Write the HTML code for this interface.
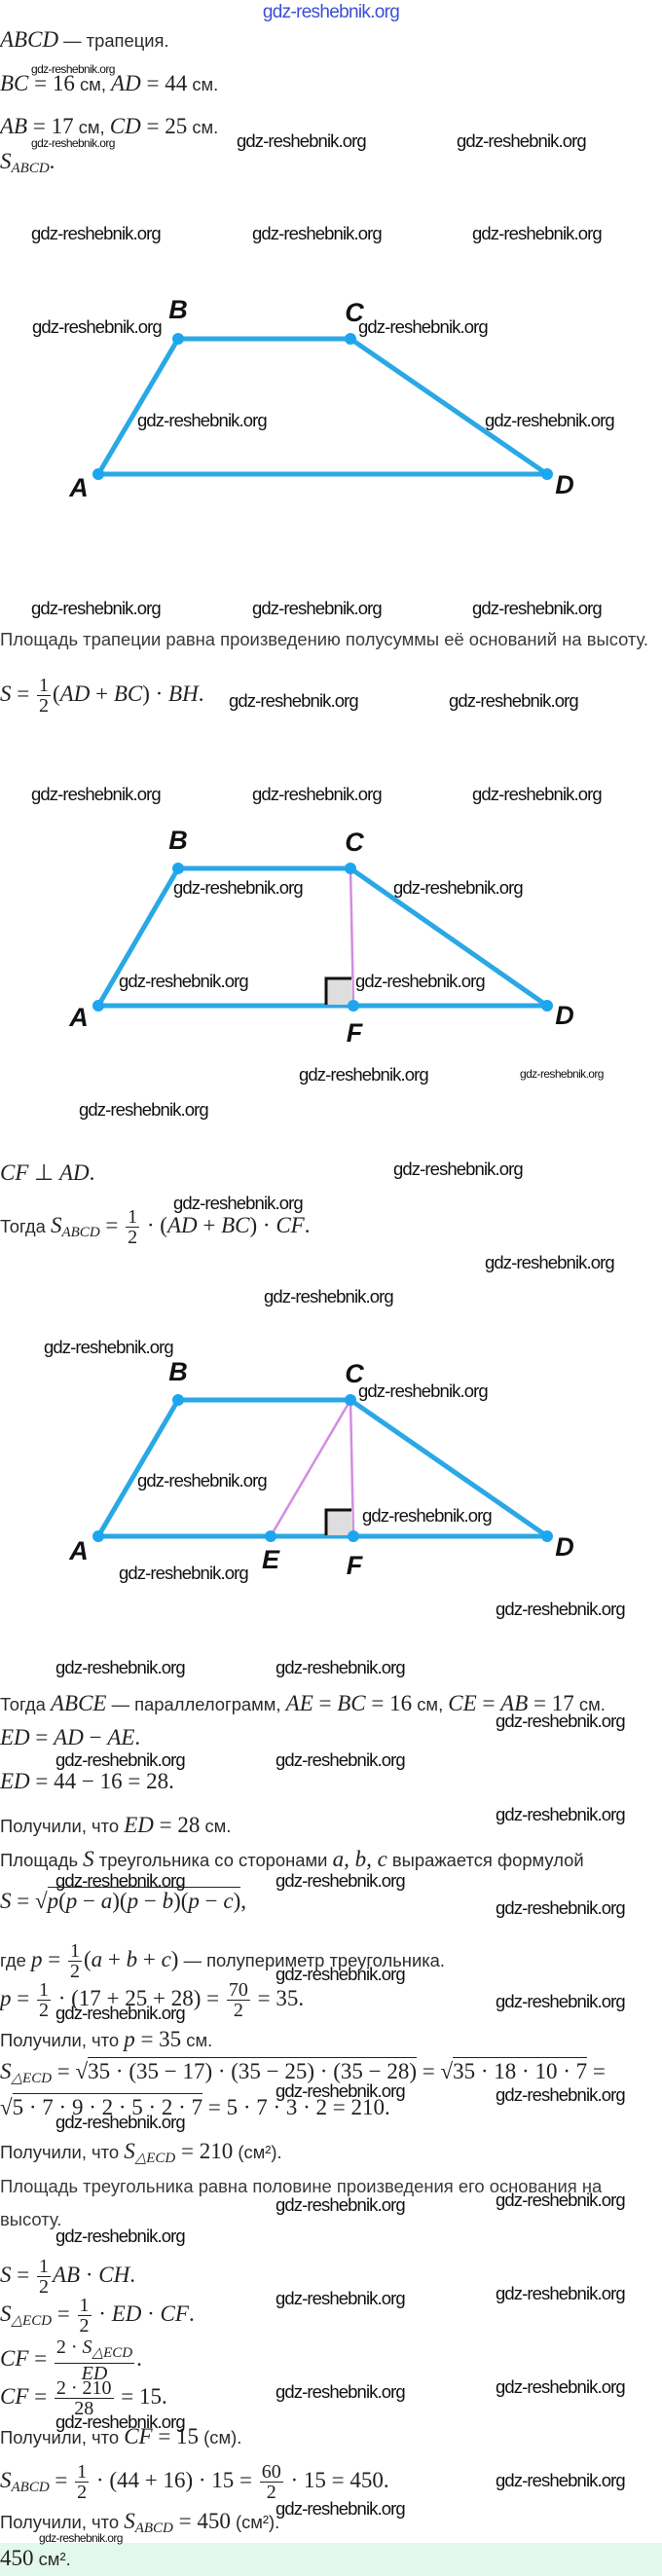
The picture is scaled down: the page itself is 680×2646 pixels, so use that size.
<!DOCTYPE html>
<html><head><meta charset="utf-8">
<style>
html,body{margin:0;padding:0;background:#fff}
body{position:relative;width:680px;height:2646px;overflow:hidden;font-family:"Liberation Sans",sans-serif}
.t{position:absolute;left:0;font-size:18.4px;line-height:24px;color:#2b2b2b;white-space:nowrap}
.m{font-family:"Liberation Serif",serif;font-size:23px;color:#222}
.i{font-style:italic}
.sub{font-size:15px;font-style:italic;vertical-align:-4px}
.fr{display:inline-block;vertical-align:middle;text-align:center;font-family:"Liberation Serif",serif;font-size:20px;line-height:20px;margin:0 2px}
.fr>span{display:block;padding:0 2px}
.fr>span:first-child{border-bottom:1px solid #222}
.sq{border-top:1px solid #222;padding-top:1px}
.w{position:absolute;font-family:"Liberation Sans",sans-serif;font-size:18.5px;line-height:20px;color:#111;letter-spacing:-0.9px;white-space:nowrap}
.ws{position:absolute;font-family:"Liberation Sans",sans-serif;font-size:12px;line-height:14px;color:#111;letter-spacing:-0.6px;white-space:nowrap}
svg{position:absolute;left:0;top:0}
</style></head><body>

<div style="position:absolute;left:0;width:680px;top:2px;text-align:center;font-size:19px;color:#3a4fd6;letter-spacing:-0.7px">gdz-reshebnik.org</div>

<svg width="680" height="2646" viewBox="0 0 680 2646">
<g stroke="#2aa8e6" stroke-width="5" fill="none" stroke-linejoin="round">
<polygon points="101,487 183,348 360,348 562,487"/>
<polygon points="101,1033 183,892 360,892 562,1033"/>
<polygon points="101,1578 183,1438 360,1438 562,1578"/>
</g>
<g stroke="#d48be3" stroke-width="2.5">
<line x1="360" y1="892" x2="363" y2="1033"/>
<line x1="360" y1="1438" x2="363" y2="1578"/>
<line x1="360" y1="1438" x2="278" y2="1578"/>
</g>
<rect x="334" y="1005" width="28" height="27" fill="#dedede"/>
<path d="M335,1032 V1005 H361" stroke="#111" stroke-width="3" fill="none"/>
<rect x="334" y="1551" width="28" height="26" fill="#dedede"/>
<path d="M335,1577 V1551 H361" stroke="#111" stroke-width="3" fill="none"/>
<g fill="#1da6ef">
<circle cx="101" cy="487" r="6"/><circle cx="183" cy="348" r="6"/><circle cx="360" cy="348" r="6"/><circle cx="562" cy="487" r="6"/>
<circle cx="101" cy="1033" r="6"/><circle cx="183" cy="892" r="6"/><circle cx="360" cy="892" r="6"/><circle cx="562" cy="1033" r="6"/><circle cx="363" cy="1033" r="6"/>
<circle cx="101" cy="1578" r="6"/><circle cx="183" cy="1438" r="6"/><circle cx="360" cy="1438" r="6"/><circle cx="562" cy="1578" r="6"/><circle cx="363" cy="1578" r="6"/><circle cx="278" cy="1578" r="6"/>
</g>
<g font-family="Liberation Sans, sans-serif" font-weight="bold" font-style="italic" font-size="27" fill="#111" text-anchor="middle">
<text x="183" y="327" transform="">B</text><text x="364" y="330">C</text><text x="81" y="510">A</text><text x="580" y="507">D</text>
<text x="183" y="872">B</text><text x="364" y="874">C</text><text x="81" y="1054">A</text><text x="580" y="1052">D</text><text x="364" y="1070">F</text>
<text x="183" y="1418">B</text><text x="364" y="1420">C</text><text x="81" y="1602">A</text><text x="580" y="1598">D</text><text x="364" y="1617">F</text><text x="278" y="1611">E</text>
</g>
</svg>

<div class="t" style="top:29px"><span class="m i">ABCD</span> — трапеция.</div>
<div class="t" style="top:74px"><span class="m"><i>BC</i> = 16</span> см, <span class="m"><i>AD</i> = 44</span> см.</div>
<div class="t" style="top:118px"><span class="m"><i>AB</i> = 17</span> см, <span class="m"><i>CD</i> = 25</span> см.</div>
<div class="t" style="top:154px"><span class="m"><i>S</i><span class="sub">ABCD</span>.</span></div>

<div class="t" style="top:645px;color:#3a3a3a">Площадь трапеции равна произведению полусуммы её оснований на высоту.</div>
<div class="t" style="top:694px"><span class="m"><i>S</i> = <span class="fr"><span>1</span><span>2</span></span>(<i>AD</i> + <i>BC</i>) · <i>BH</i>.</span></div>

<div class="t" style="top:1193px"><span class="m"><i>CF</i> ⊥ <i>AD</i>.</span></div>
<div class="t" style="top:1240px">Тогда <span class="m"><i>S</i><span class="sub">ABCD</span> = <span class="fr"><span>1</span><span>2</span></span> · (<i>AD</i> + <i>BC</i>) · <i>CF</i>.</span></div>

<div class="t" style="top:1738px">Тогда <span class="m i">ABCE</span> — параллелограмм, <span class="m"><i>AE</i> = <i>BC</i> = 16</span> см, <span class="m"><i>CE</i> = <i>AB</i> = 17</span> см.</div>
<div class="t" style="top:1773px"><span class="m"><i>ED</i> = <i>AD</i> − <i>AE</i>.</span></div>
<div class="t" style="top:1818px"><span class="m"><i>ED</i> = 44 − 16 = 28.</span></div>
<div class="t" style="top:1863px">Получили, что <span class="m"><i>ED</i> = 28</span> см.</div>
<div class="t" style="top:1898px">Площадь <span class="m i">S</span> треугольника со сторонами <span class="m i">a, b, c</span> выражается формулой</div>
<div class="t" style="top:1941px"><span class="m"><i>S</i> = √<span class="sq"><i>p</i>(<i>p</i> − <i>a</i>)(<i>p</i> − <i>b</i>)(<i>p</i> − <i>c</i>)</span>,</span></div>
<div class="t" style="top:1994px">где <span class="m"><i>p</i> = <span class="fr"><span>1</span><span>2</span></span>(<i>a</i> + <i>b</i> + <i>c</i>)</span> — полупериметр треугольника.</div>
<div class="t" style="top:2034px"><span class="m"><i>p</i> = <span class="fr"><span>1</span><span>2</span></span> · (17 + 25 + 28) = <span class="fr"><span>70</span><span>2</span></span> = 35.</span></div>
<div class="t" style="top:2083px">Получили, что <span class="m"><i>p</i> = 35</span> см.</div>
<div class="t" style="top:2116px"><span class="m"><i>S</i><span class="sub">△ECD</span> = √<span class="sq">35 · (35 − 17) · (35 − 25) · (35 − 28)</span> = √<span class="sq">35 · 18 · 10 · 7</span> =</span></div>
<div class="t" style="top:2153px"><span class="m">√<span class="sq">5 · 7 · 9 · 2 · 5 · 2 · 7</span> = 5 · 7 · 3 · 2 = 210.</span></div>
<div class="t" style="top:2198px">Получили, что <span class="m"><i>S</i><span class="sub">△ECD</span> = 210</span> (см²).</div>
<div class="t" style="top:2234px;color:#3a3a3a">Площадь треугольника равна половине произведения его основания на</div>
<div class="t" style="top:2268px;color:#3a3a3a">высоту.</div>
<div class="t" style="top:2318px"><span class="m"><i>S</i> = <span class="fr"><span>1</span><span>2</span></span><i>AB</i> · <i>CH</i>.</span></div>
<div class="t" style="top:2358px"><span class="m"><i>S</i><span class="sub">△ECD</span> = <span class="fr"><span>1</span><span>2</span></span> · <i>ED</i> · <i>CF</i>.</span></div>
<div class="t" style="top:2401px"><span class="m"><i>CF</i> = <span class="fr"><span>2 · <i>S</i><span class="sub">△ECD</span></span><span><i>ED</i></span></span>.</span></div>
<div class="t" style="top:2443px"><span class="m"><i>CF</i> = <span class="fr"><span>2 · 210</span><span>28</span></span> = 15.</span></div>
<div class="t" style="top:2491px">Получили, что <span class="m"><i>CF</i> = 15</span> (см).</div>
<div class="t" style="top:2529px"><span class="m"><i>S</i><span class="sub">ABCD</span> = <span class="fr"><span>1</span><span>2</span></span> · (44 + 16) · 15 = <span class="fr"><span>60</span><span>2</span></span> · 15 = 450.</span></div>
<div class="t" style="top:2578px">Получили, что <span class="m"><i>S</i><span class="sub">ABCD</span> = 450</span> (см²).</div>
<div style="position:absolute;left:0;top:2612px;width:680px;height:34px;background:#e2f8ec"></div>
<div class="t" style="top:2616px"><span class="m">450</span> см².</div>

<div class="ws" style="left:32px;top:64px">gdz-reshebnik.org</div>
<div class="ws" style="left:32px;top:140px">gdz-reshebnik.org</div>
<div class="w" style="left:243px;top:135px">gdz-reshebnik.org</div>
<div class="w" style="left:469px;top:135px">gdz-reshebnik.org</div>
<div class="w" style="left:32px;top:230px">gdz-reshebnik.org</div>
<div class="w" style="left:259px;top:230px">gdz-reshebnik.org</div>
<div class="w" style="left:485px;top:230px">gdz-reshebnik.org</div>
<div class="w" style="left:33px;top:326px">gdz-reshebnik.org</div>
<div class="w" style="left:368px;top:326px">gdz-reshebnik.org</div>
<div class="w" style="left:141px;top:422px">gdz-reshebnik.org</div>
<div class="w" style="left:498px;top:422px">gdz-reshebnik.org</div>
<div class="w" style="left:32px;top:615px">gdz-reshebnik.org</div>
<div class="w" style="left:259px;top:615px">gdz-reshebnik.org</div>
<div class="w" style="left:485px;top:615px">gdz-reshebnik.org</div>
<div class="w" style="left:235px;top:710px">gdz-reshebnik.org</div>
<div class="w" style="left:461px;top:710px">gdz-reshebnik.org</div>
<div class="w" style="left:32px;top:806px">gdz-reshebnik.org</div>
<div class="w" style="left:259px;top:806px">gdz-reshebnik.org</div>
<div class="w" style="left:485px;top:806px">gdz-reshebnik.org</div>
<div class="w" style="left:178px;top:902px">gdz-reshebnik.org</div>
<div class="w" style="left:404px;top:902px">gdz-reshebnik.org</div>
<div class="w" style="left:122px;top:998px">gdz-reshebnik.org</div>
<div class="w" style="left:365px;top:998px">gdz-reshebnik.org</div>
<div class="w" style="left:307px;top:1094px">gdz-reshebnik.org</div>
<div class="ws" style="left:534px;top:1096px">gdz-reshebnik.org</div>
<div class="w" style="left:81px;top:1130px">gdz-reshebnik.org</div>
<div class="w" style="left:404px;top:1191px">gdz-reshebnik.org</div>
<div class="w" style="left:178px;top:1226px">gdz-reshebnik.org</div>
<div class="w" style="left:498px;top:1287px">gdz-reshebnik.org</div>
<div class="w" style="left:271px;top:1322px">gdz-reshebnik.org</div>
<div class="w" style="left:45px;top:1374px">gdz-reshebnik.org</div>
<div class="w" style="left:368px;top:1419px">gdz-reshebnik.org</div>
<div class="w" style="left:141px;top:1511px">gdz-reshebnik.org</div>
<div class="w" style="left:372px;top:1547px">gdz-reshebnik.org</div>
<div class="w" style="left:122px;top:1606px">gdz-reshebnik.org</div>
<div class="w" style="left:509px;top:1643px">gdz-reshebnik.org</div>
<div class="w" style="left:57px;top:1703px">gdz-reshebnik.org</div>
<div class="w" style="left:283px;top:1703px">gdz-reshebnik.org</div>
<div class="w" style="left:509px;top:1758px">gdz-reshebnik.org</div>
<div class="w" style="left:57px;top:1798px">gdz-reshebnik.org</div>
<div class="w" style="left:283px;top:1798px">gdz-reshebnik.org</div>
<div class="w" style="left:509px;top:1854px">gdz-reshebnik.org</div>
<div class="w" style="left:57px;top:1922px">gdz-reshebnik.org</div>
<div class="w" style="left:283px;top:1922px">gdz-reshebnik.org</div>
<div class="w" style="left:509px;top:1950px">gdz-reshebnik.org</div>
<div class="w" style="left:283px;top:2018px">gdz-reshebnik.org</div>
<div class="w" style="left:509px;top:2046px">gdz-reshebnik.org</div>
<div class="w" style="left:57px;top:2058px">gdz-reshebnik.org</div>
<div class="w" style="left:283px;top:2138px">gdz-reshebnik.org</div>
<div class="w" style="left:509px;top:2142px">gdz-reshebnik.org</div>
<div class="w" style="left:57px;top:2170px">gdz-reshebnik.org</div>
<div class="w" style="left:283px;top:2255px">gdz-reshebnik.org</div>
<div class="w" style="left:509px;top:2250px">gdz-reshebnik.org</div>
<div class="w" style="left:57px;top:2287px">gdz-reshebnik.org</div>
<div class="w" style="left:283px;top:2351px">gdz-reshebnik.org</div>
<div class="w" style="left:509px;top:2346px">gdz-reshebnik.org</div>
<div class="w" style="left:283px;top:2447px">gdz-reshebnik.org</div>
<div class="w" style="left:509px;top:2442px">gdz-reshebnik.org</div>
<div class="w" style="left:57px;top:2478px">gdz-reshebnik.org</div>
<div class="w" style="left:509px;top:2538px">gdz-reshebnik.org</div>
<div class="w" style="left:283px;top:2567px">gdz-reshebnik.org</div>
<div class="ws" style="left:40px;top:2600px">gdz-reshebnik.org</div>

</body></html>
